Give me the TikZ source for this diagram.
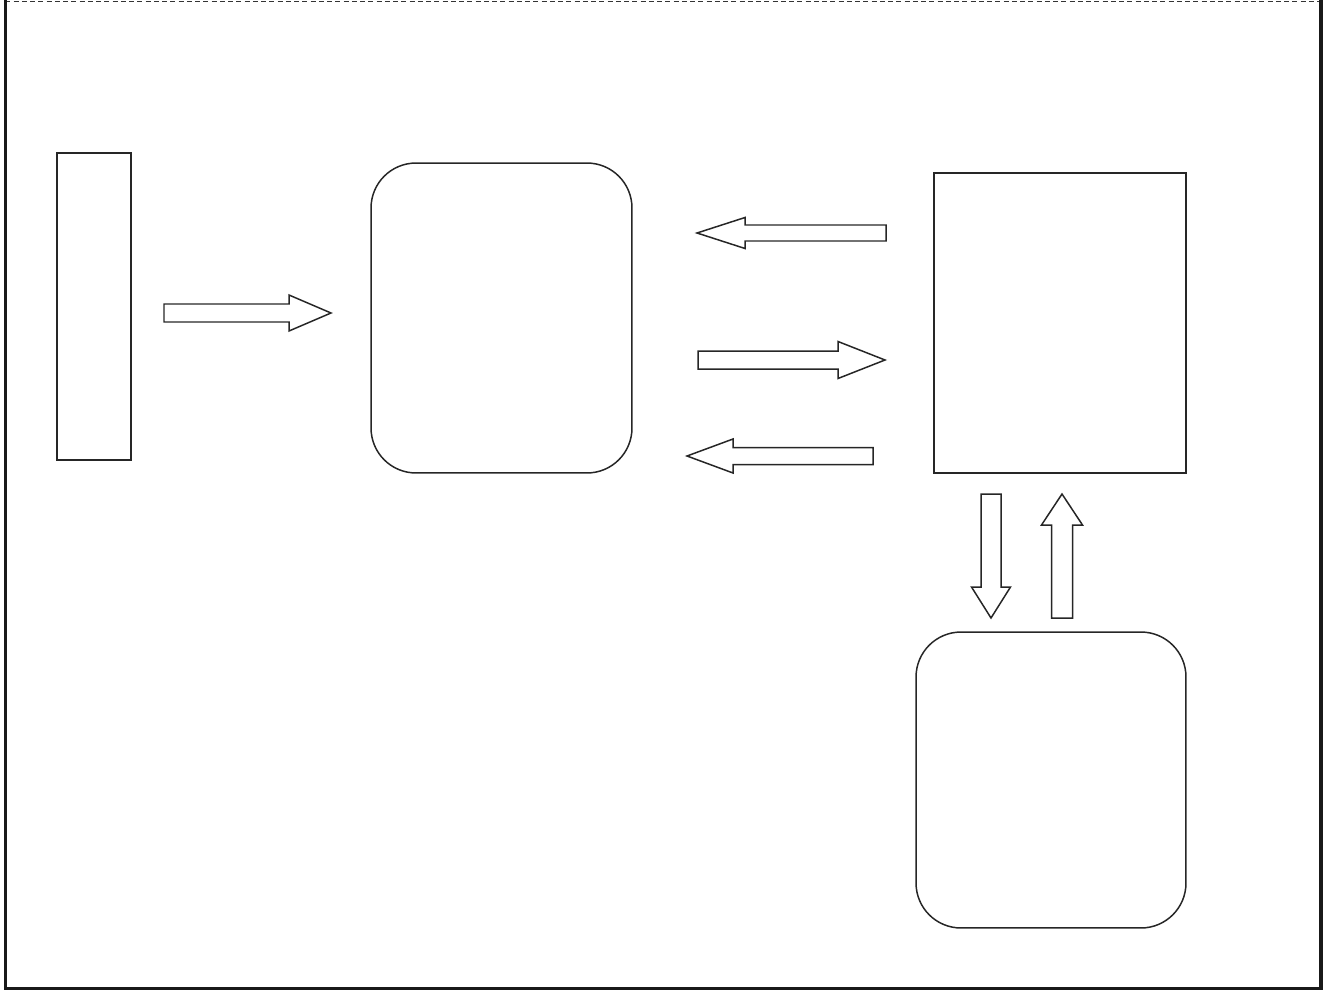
\documentclass[tikz,border=0pt]{standalone}
\usepackage{tikz}
\usetikzlibrary{shapes, arrows.meta, positioning, calc}

\begin{document}
\begin{tikzpicture}[
  x=0.02cm, y=-0.02cm,
  boxline/.style={draw=black!85, line width=0.85pt},
  plainbox/.style={boxline, inner sep=0pt},
  roundbox/.style={boxline, inner sep=0pt, rounded corners=0.9cm},
  arrowline/.style={draw=black!85, line width=0.85pt, line join=miter},
  frameline/.style={draw=black!90, line width=2.1pt},
  topline/.style={draw=black!80, line width=1.1pt, dash pattern=on 0.1cm off 0.065cm},
  pics/blockarrow/.style args={#1/#2/#3/#4}{code={
    \draw[arrowline] (0,-#2) -- (#1-#4,-#2) -- (#1-#4,-#3) -- (#1,0)
      -- (#1-#4,#3) -- (#1-#4,#2) -- (0,#2) -- cycle;
  }}
]
  \useasboundingbox (0,0) rectangle (1328,990);

  % frame round the page
  \draw[topline] (5.5,1.5) -- (1321,1.5);
  \draw[frameline] (5.5,0) -- (5.5,988.5) -- (1321,988.5) -- (1321,0);

  % boxes
  \node[plainbox, minimum width=1.48cm, minimum height=6.14cm] (source) at (94,306.5) {};
  \node[roundbox, minimum width=5.22cm, minimum height=6.2cm] (hub) at (501.5,318) {};
  \node[plainbox, minimum width=5.04cm, minimum height=6.0cm] (server) at (1060,323) {};
  \node[roundbox, minimum width=5.4cm, minimum height=5.92cm] (store) at (1051,780) {};

  % block arrows: length/shaft half/head half/head length
  \pic at (164,313) {blockarrow=167/9/18/42};
  \pic[rotate=180] at (886,233) {blockarrow=189/8/15.5/48};
  \pic at (698,360) {blockarrow=187/9/18.5/47};
  \pic[rotate=180] at (873,456) {blockarrow=186/8.5/17/46};
  \pic[rotate=-90] at (991,494) {blockarrow=124/10/19.5/31};
  \pic[rotate=90] at (1062,618) {blockarrow=124/10.5/20.5/31};
\end{tikzpicture}
\end{document}
